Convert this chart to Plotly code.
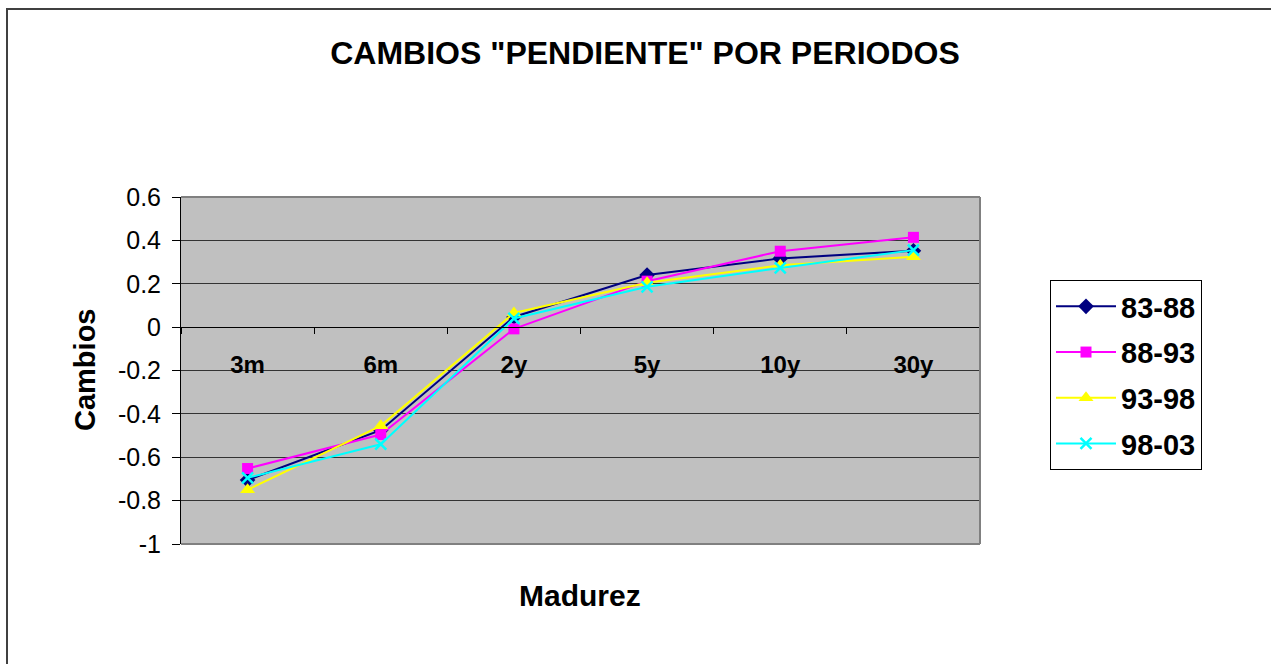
import plotly.graph_objects as go

categories = ["3m", "6m", "2y", "5y", "10y", "30y"]
s_83_88 = [-0.705, -0.475, 0.047, 0.240, 0.317, 0.352]
s_88_93 = [-0.652, -0.495, -0.008, 0.212, 0.350, 0.414]
s_93_98 = [-0.750, -0.455, 0.065, 0.205, 0.285, 0.325]
s_98_03 = [-0.695, -0.540, 0.040, 0.186, 0.273, 0.355]
series_names = ["83-88", "88-93", "93-98", "98-03"]
y_ticks = [-1, -0.8, -0.6, -0.4, -0.2, 0, 0.2, 0.4, 0.6]
y_tick_text = ["-1", "-0.8", "-0.6", "-0.4", "-0.2", "0", "0.2", "0.4", "0.6"]

FONT = "Liberation Sans, Arial, sans-serif"
W, H = 1271, 664
L, R, T, B = 181, 980, 197, 544

def px_x(x):
    return (x - L) / (R - L)

def px_y(y):
    return (B - y) / (B - T)

styles = [
    dict(color="#000080", symbol="diamond", size=12),
    dict(color="#FF00FF", symbol="square", size=11),
    dict(color="#FFFF00", symbol="triangle-up", size=13),
    dict(color="#00FFFF", symbol="x-thin", size=11),
]
data = [s_83_88, s_88_93, s_93_98, s_98_03]

fig = go.Figure()
for i, (name, vals, st) in enumerate(zip(series_names, data, styles)):
    marker = dict(symbol=st["symbol"], size=st["size"], color=st["color"])
    if st["symbol"] == "x-thin":
        marker["line"] = dict(color=st["color"], width=2.5)
    fig.add_trace(go.Scatter(
        x=categories, y=vals, name=name, mode="lines+markers",
        line=dict(color=st["color"], width=2), marker=marker,
        legendgroup=name,
    ))

fig.update_layout(
    width=W, height=H,
    margin=dict(l=L, r=W - R, t=T, b=H - B, autoexpand=False),
    paper_bgcolor="white", plot_bgcolor="#C0C0C0",
    font=dict(family=FONT, color="black"),
    title=dict(text='<b>CAMBIOS "PENDIENTE" POR PERIODOS</b>',
               font=dict(size=32, family=FONT, color="black"),
               x=px_x(645), xref="paper", xanchor="center",
               y=1 - 53 / H, yref="container", yanchor="middle"),
    showlegend=True,
    legend=dict(x=px_x(1050), y=px_y(280), xanchor="left", yanchor="top",
                xref="paper", yref="paper",
                bordercolor="black", borderwidth=1, bgcolor="white",
                font=dict(size=29, family=FONT, color="black", weight="bold"),
                traceorder="grouped", tracegroupgap=5, itemwidth=60),
    xaxis=dict(type="category", range=[-0.5, 5.5], anchor="free",
               position=px_y(327), showline=True, linecolor="black", linewidth=1,
               ticks="outside", tickson="boundaries", ticklen=6, tickcolor="black",
               showgrid=False, zeroline=False,
               tickfont=dict(size=24, family=FONT, color="black", weight="bold"),
               ticklabelstandoff=16),
    yaxis=dict(range=[-1, 0.6], tickvals=y_ticks, ticktext=y_tick_text,
               showline=True, linecolor="black", linewidth=1,
               ticks="outside", ticklen=8, tickcolor="black",
               showgrid=True, gridcolor="#333333", gridwidth=1,
               zeroline=False, ticklabelstandoff=6,
               tickfont=dict(size=25, family=FONT, color="black")),
    annotations=[
        dict(text="<b>Madurez</b>", x=px_x(580), y=px_y(595), xref="paper", yref="paper",
             xanchor="center", yanchor="middle",
             showarrow=False, font=dict(size=30, family=FONT, color="black")),
        dict(text="<b>Cambios</b>", x=px_x(85), y=px_y(370), xref="paper", yref="paper",
             xanchor="center", yanchor="middle",
             showarrow=False, textangle=-90, font=dict(size=29, family=FONT, color="black")),
    ],
    shapes=[
        dict(type="line", xref="paper", yref="paper", x0=0, x1=1, y0=1, y1=1,
             line=dict(color="#808080", width=2), layer="above"),
        dict(type="line", xref="paper", yref="paper", x0=1, x1=1, y0=0, y1=1,
             line=dict(color="#808080", width=2), layer="above"),
        dict(type="line", xref="paper", yref="paper", x0=0, x1=1, y0=0, y1=0,
             line=dict(color="#808080", width=2), layer="above"),
        dict(type="rect", xref="paper", yref="paper",
             x0=px_x(7), x1=px_x(1290), y0=px_y(680), y1=px_y(9),
             line=dict(color="#404040", width=2), fillcolor="rgba(0,0,0,0)"),
    ],
)

fig.write_html("out.html", config={"displayModeBar": False},
               post_script="document.body.style.margin='0';document.body.style.overflow='hidden';")
